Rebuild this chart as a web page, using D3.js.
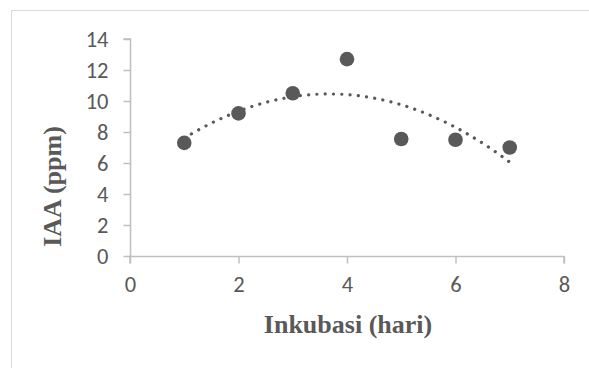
<!DOCTYPE html>
<html>
<head>
<meta charset="utf-8">
<script src="https://cdn.jsdelivr.net/npm/d3@7"></script>
<style>
  body { margin: 0; background: #fff; }
  svg { display: block; }
</style>
</head>
<body>
<svg id="vis" width="589" height="368"></svg>
<script>
const days = [1, 2, 3, 4, 5, 6, 7];
const iaa = [7.3, 9.2, 10.5, 12.7, 7.55, 7.5, 7.0];
const xTicks = [0, 2, 4, 6, 8];
const yTicks = [0, 2, 4, 6, 8, 10, 12, 14];

const svg = d3.select("#vis");
const xscale = d3.scaleLinear().domain([0, 8]).range([130, 564]);
const yscale = d3.scaleLinear().domain([0, 14]).range([256, 39]);

const AXIS_COLOR = "#bfbfbf";
const TEXT_COLOR = "#595959";
const TICK_FONT = "Carlito, 'Open Sans', sans-serif";
const TICK_SIZE = 22.5;

// chart frame (runs off the right and bottom edge)
svg.append("rect")
    .attr("x", 11.5).attr("y", 10.5)
    .attr("width", 600).attr("height", 400)
    .attr("fill", "none")
    .attr("stroke", "#d9d9d9");

// quadratic trend line (least squares on the data)
function quadFit(xs, ys) {
    const n = xs.length;
    const mx = d3.mean(xs);
    const t = xs.map(x => x - mx);
    const s2 = d3.sum(t, v => v * v);
    const s4 = d3.sum(t, v => v ** 4);
    const sy = d3.sum(ys);
    const sty = d3.sum(t, (v, i) => v * ys[i]);
    const st2y = d3.sum(t, (v, i) => v * v * ys[i]);
    const b = sty / s2;
    const c = (st2y - s2 * sy / n) / (s4 - s2 * s2 / n);
    const a = (sy - c * s2) / n;
    return x => a + b * (x - mx) + c * (x - mx) ** 2;
}

const fit = quadFit(days, iaa);
const trend = d3.range(0, 61).map(i => {
    const x = 1 + i * 0.1;
    return { x: x, y: fit(x) };
});

// y axis
const yAxis = d3.axisLeft(yscale).tickValues(yTicks).tickSize(7).tickPadding(15);
const gy = svg.append("g").attr("transform", "translate(130.5,0)").call(yAxis);
gy.attr("font-size", null).attr("font-family", null);
gy.select(".domain").attr("stroke", AXIS_COLOR).attr("stroke-width", 1.5)
    .attr("d", `M-7,${yscale(14)}H0V${yscale(0)}`);
gy.selectAll(".tick line").attr("stroke", AXIS_COLOR).attr("stroke-width", 1.5);
gy.selectAll(".tick text")
    .attr("fill", TEXT_COLOR)
    .attr("font-family", TICK_FONT)
    .attr("font-size", TICK_SIZE);

// x axis
const xAxis = d3.axisBottom(xscale).tickValues(xTicks).tickSize(7).tickPadding(12.5);
const gx = svg.append("g").attr("transform", "translate(0,256.5)").call(xAxis);
gx.attr("font-size", null).attr("font-family", null);
gx.select(".domain").attr("stroke", AXIS_COLOR).attr("stroke-width", 1.5)
    .attr("d", `M${xscale(0)},7V0H${xscale(8)}V7`);
gx.selectAll(".tick line").attr("stroke", AXIS_COLOR).attr("stroke-width", 1.5);
gx.selectAll(".tick text")
    .attr("fill", TEXT_COLOR)
    .attr("font-family", TICK_FONT)
    .attr("font-size", TICK_SIZE);

// trend line
svg.append("path")
    .datum(trend)
    .attr("fill", "none")
    .attr("stroke", TEXT_COLOR)
    .attr("stroke-width", 3.2)
    .attr("stroke-linecap", "round")
    .attr("stroke-dasharray", "0.1 8.2")
    .attr("d", d3.line().x(d => xscale(d.x)).y(d => yscale(d.y)));

// points
svg.selectAll(".points").data(days).join("circle")
    .attr("class", "points")
    .attr("cx", d => xscale(d))
    .attr("cy", (d, i) => yscale(iaa[i]))
    .attr("r", 7.3)
    .attr("fill", TEXT_COLOR);

// axis titles
svg.append("text")
    .attr("x", 348).attr("y", 333)
    .attr("text-anchor", "middle")
    .attr("fill", TEXT_COLOR)
    .style("font-family", "'Liberation Serif', 'Times New Roman', serif")
    .style("font-weight", "bold")
    .style("font-size", "26px")
    .text("Inkubasi (hari)");

svg.append("text")
    .attr("transform", "translate(61,186.5) rotate(-90)")
    .attr("text-anchor", "middle")
    .attr("fill", TEXT_COLOR)
    .style("font-family", "'Liberation Serif', 'Times New Roman', serif")
    .style("font-weight", "bold")
    .style("font-size", "26px")
    .text("IAA (ppm)");
</script>
</body>
</html>
